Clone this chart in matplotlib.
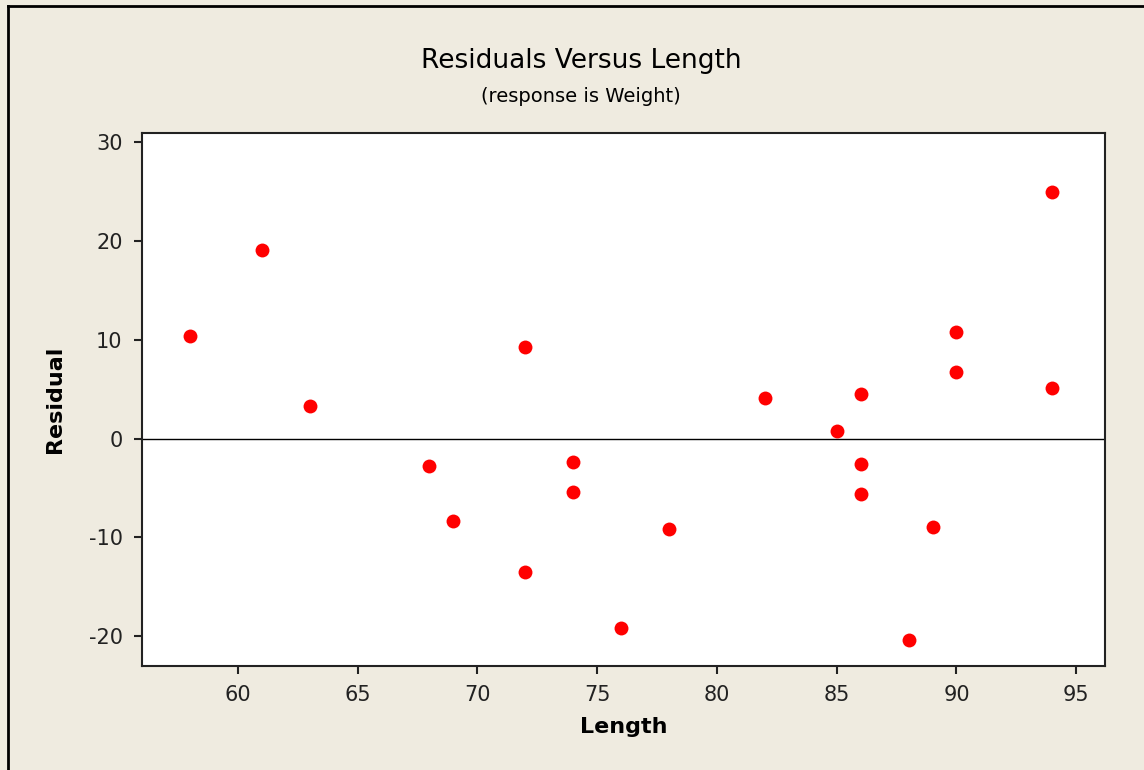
import matplotlib.pyplot as plt
import numpy as np

plt.rcParams['axes.unicode_minus'] = False  # use plain hyphen like the original

length = [58, 61, 63, 68, 69, 72, 72, 74, 74, 76, 78, 82, 85, 86, 86, 86, 88, 89, 90, 90, 94, 94]
residual = [10.4, 19.1, 3.3, -2.8, -8.3, 9.3, -13.5, -2.4, -5.4, -19.2, -9.1, 4.1, 0.8, 4.5, -2.6, -5.6, -20.4, -8.9, 10.8, 6.7, 24.9, 5.1]
xticks = [60, 65, 70, 75, 80, 85, 90, 95]
yticks = [-20, -10, 0, 10, 20, 30]

bg = '#EFEBE0'
fig = plt.figure(figsize=(11.44, 7.70), dpi=100, facecolor=bg)
ax = fig.add_axes([0.1241, 0.1351, 0.8418, 0.6922])
ax.set_facecolor('white')

ax.scatter(length, residual, s=100, color='#FF0000', zorder=3, linewidths=0)
ax.axhline(0, color='black', lw=1)

ax.set_xlim(56.0, 96.2)
ax.set_ylim(-23.0, 30.9)
ax.set_xticks(xticks)
ax.set_yticks(yticks)
ax.tick_params(labelsize=15, length=6, width=1.5, colors='#222222', pad=8)
for s in ax.spines.values():
    s.set_linewidth(1.5)
    s.set_color('#222222')

ax.set_xlabel('Length', fontsize=16, fontweight='bold', labelpad=8)
ax.set_ylabel('Residual', fontsize=16, fontweight='bold')
ax.yaxis.set_label_coords(-0.08, 0.5)

fig.text(0.508, 0.921, 'Residuals Versus Length', ha='center', va='center', fontsize=19, fontweight='medium')
fig.text(0.508, 0.875, '(response is Weight)', ha='center', va='center', fontsize=14)

# outer frame (left and top edges)
fig.add_artist(plt.Line2D([0.0066, 0.0066], [0, 0.9922], color='black', lw=2, transform=fig.transFigure))
fig.add_artist(plt.Line2D([0.0066, 1], [0.9922, 0.9922], color='black', lw=2, transform=fig.transFigure))

fig.savefig('out.png', dpi=100, facecolor=bg)
